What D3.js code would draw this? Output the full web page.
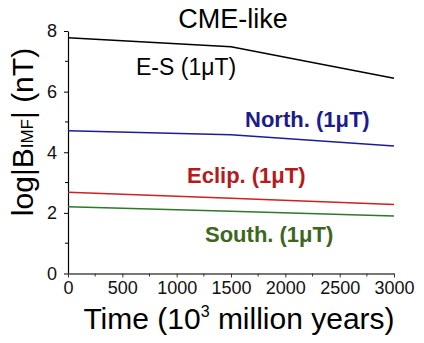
<!DOCTYPE html>
<html>
<head>
<meta charset="utf-8">
<script src="https://cdn.jsdelivr.net/npm/d3@7"></script>
<style>
  body { margin: 0; background: #fff; }
  text { font-family: "Liberation Sans", Arial, sans-serif; }
</style>
</head>
<body>
<div id="chart"></div>
<script>
// data
var times = [0, 1500, 3000];
var esVals = [7.78, 7.48, 6.44];
var northVals = [4.71, 4.58, 4.21];
var eclipVals = [2.68, 2.48, 2.28];
var southVals = [2.20, 2.05, 1.90];
var seriesNames = ["E-S (1\u03bcT)", "North. (1\u03bcT)", "Eclip. (1\u03bcT)", "South. (1\u03bcT)"];
var xTicks = [0, 500, 1000, 1500, 2000, 2500, 3000];
var yTicks = [0, 2, 4, 6, 8];

var width = 424, height = 343;
var margin = { top: 31, right: 30, bottom: 70, left: 68 };

var svg = d3.select("#chart").append("svg")
  .attr("width", width)
  .attr("height", height);

var x = d3.scaleLinear().domain([0, 3000]).range([margin.left, 394]);
var y = d3.scaleLinear().domain([0, 8]).range([273.5, 31]);

// minor ticks
var xMinor = d3.range(250, 3000, 500);
var yMinor = [1, 3, 5, 7];

// y axis
var yAxis = svg.append("g")
  .attr("transform", "translate(" + x(0) + ",0)")
  .call(d3.axisLeft(y).tickValues(yTicks).tickFormat(d3.format("d"))
    .tickSize(4).tickPadding(7).tickSizeOuter(0));
yAxis.select(".domain").attr("stroke", "#000").attr("stroke-width", 1.2);
yAxis.selectAll("text").attr("font-size", 18).attr("fill", "#111")
  .attr("font-family", "Liberation Sans, Arial, sans-serif");
svg.append("g").selectAll("line").data(yMinor).join("line")
  .attr("x1", x(0) - 3).attr("x2", x(0))
  .attr("y1", function(d) { return y(d); }).attr("y2", function(d) { return y(d); })
  .attr("stroke", "#000");

// x axis
var xAxis = svg.append("g")
  .attr("transform", "translate(0," + y(0) + ")")
  .call(d3.axisBottom(x).tickValues(xTicks).tickFormat(d3.format("d"))
    .tickSize(4).tickPadding(4).tickSizeOuter(0));
xAxis.select(".domain").attr("stroke", "#777").attr("stroke-width", 2);
xAxis.selectAll(".tick line").attr("stroke", "#333");
xAxis.selectAll("text").attr("font-size", 18).attr("fill", "#111")
  .attr("font-family", "Liberation Sans, Arial, sans-serif");
svg.append("g").selectAll("line").data(xMinor).join("line")
  .attr("x1", function(d) { return x(d); }).attr("x2", function(d) { return x(d); })
  .attr("y1", y(0)).attr("y2", y(0) + 3)
  .attr("stroke", "#333");

// lines
var line = d3.line()
  .x(function(d) { return x(d[0]); })
  .y(function(d) { return y(d[1]); });

var series = [
  { vals: esVals, color: "#000000", text: "#000000", lx: 136, ly: 75, bold: false },
  { vals: northVals, color: "#1c1c99", text: "#1c1c8c", lx: 245, ly: 127, bold: true },
  { vals: eclipVals, color: "#d02020", text: "#b51b1b", lx: 187, ly: 183, bold: true },
  { vals: southVals, color: "#2a7a2a", text: "#3d6620", lx: 205, ly: 242, bold: true }
];

series.forEach(function(s, i) {
  svg.append("path")
    .datum(d3.zip(times, s.vals))
    .attr("fill", "none")
    .attr("stroke", s.color)
    .attr("stroke-width", 1.5)
    .attr("d", line);
  svg.append("text")
    .attr("x", s.lx)
    .attr("y", s.ly)
    .attr("font-size", s.bold ? 22 : 23)
    .attr("font-weight", s.bold ? "bold" : "normal")
    .attr("fill", s.text)
    .text(seriesNames[i]);
});

// title
svg.append("text")
  .attr("x", 233).attr("y", 28)
  .attr("text-anchor", "middle")
  .attr("font-size", 27)
  .text("CME-like");

// x label
var xl = svg.append("text")
  .attr("x", 239).attr("y", 329)
  .attr("text-anchor", "middle")
  .attr("font-size", 30);
xl.append("tspan").text("Time (10");
xl.append("tspan").attr("font-size", 16).attr("dy", -12).text("3");
xl.append("tspan").attr("dy", 12).text(" million years)");

// y label
var yl = svg.append("text")
  .attr("transform", "translate(33,132) rotate(-90)")
  .attr("text-anchor", "middle")
  .attr("font-size", 30);
yl.append("tspan").text("log|B");
yl.append("tspan").attr("font-size", 17).text("IMF");
yl.append("tspan").text("| (nT)");
</script>
</body>
</html>
